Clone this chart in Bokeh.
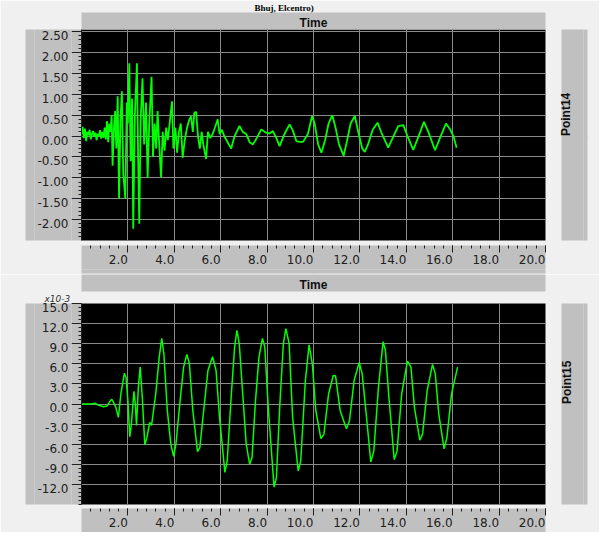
import math
from bokeh.plotting import figure
from bokeh.layouts import column
from bokeh.models import (FixedTicker, PrintfTickFormatter, Range1d, LinearAxis, Title)
from bokeh.embed import file_html
from bokeh.resources import INLINE

# ---------------- data ----------------
top_t = [0.00, 0.05, 0.10, 0.15, 0.20, 0.25, 0.30, 0.35, 0.40, 0.45, 0.50, 0.55, 0.60, 0.65,
         0.70, 0.75, 0.80, 0.85, 0.90, 0.95, 1.00, 1.05, 1.10, 1.15, 1.20, 1.25, 1.30, 1.34,
         1.40, 1.45, 1.50, 1.56, 1.62, 1.68, 1.74, 1.80, 1.89, 1.95, 2.00, 2.06, 2.12, 2.18,
         2.23, 2.30, 2.39, 2.44, 2.49, 2.55, 2.63, 2.70, 2.78, 2.85, 2.92, 3.02, 3.08, 3.15,
         3.22, 3.28, 3.35, 3.43, 3.50, 3.58, 3.65, 3.72, 3.80, 3.90, 3.96, 4.05, 4.12, 4.20,
         4.28, 4.36, 4.45, 4.55, 4.65, 4.72, 4.80, 4.86, 4.94, 5.02, 5.10, 5.18, 5.25, 5.37,
         5.45, 5.55, 5.65, 5.75, 5.87, 5.95, 6.05, 6.15, 6.30, 6.45, 6.60, 6.81, 6.95, 7.10,
         7.25, 7.39, 7.55, 7.75, 7.95, 8.10, 8.25, 8.40, 8.54, 8.75, 8.97, 9.11, 9.26, 9.40,
         9.55, 9.76, 9.94, 10.05, 10.20, 10.34, 10.50, 10.65, 10.81, 10.95, 11.10, 11.30,
         11.45, 11.60, 11.78, 11.95, 12.10, 12.21, 12.35, 12.55, 12.76, 12.95, 13.22, 13.45,
         13.65, 13.87, 14.05, 14.30, 14.50, 14.76, 14.95, 15.24, 15.45, 15.71, 15.90, 16.03,
         16.17]
top_v = [0.05, 0.22, -0.05, 0.18, -0.12, 0.10, 0.02, 0.15, -0.08, 0.05, 0.12, -0.02, 0.08, -0.10,
         0.06, 0.00, 0.14, -0.06, 0.10, -0.04, 0.20, -0.08, 0.36, -0.15, 0.30, 0.10, 0.50, -0.71,
         0.20, 0.60, -0.30, 0.95, -1.50, 0.40, 1.07, -0.90, -1.50, 0.80, 0.30, 1.74, -0.60, 0.90,
         -2.22, 0.50, 1.74, -0.50, -2.10, 0.40, 1.38, -0.20, 0.80, -1.00, 0.30, 1.42, -0.50, 0.30,
         -0.30, 0.60, -0.20, -0.99, 0.10, -0.35, 0.20, -0.10, 0.30, 0.83, -0.30, 0.20, -0.40, 0.10,
         0.30, -0.52, -0.10, 0.20, 0.40, 0.47, 0.10, 0.55, 0.58, 0.00, -0.30, 0.10, -0.20, -0.55,
         0.10, -0.05, 0.05, 0.20, 0.40, 0.05, 0.15, 0.00, -0.15, -0.30, 0.00, 0.24, 0.10, 0.05,
         -0.15, -0.20, -0.05, 0.16, 0.08, 0.06, 0.12, -0.05, -0.24, 0.05, 0.28, 0.13, -0.12, -0.14,
         -0.14, 0.05, 0.48, 0.30, -0.20, -0.40, -0.10, 0.30, 0.50, 0.20, -0.20, -0.47,
         -0.10, 0.30, 0.48, 0.05, -0.30, -0.38, -0.20, 0.15, 0.32, 0.05, -0.28, 0.00,
         0.24, 0.26, 0.00, -0.33, -0.05, 0.34, 0.10, -0.34, -0.05, 0.30, 0.15, 0.00,
         -0.28]

bot_t = [0.00, 0.45, 0.60, 0.75, 0.95, 1.10, 1.25, 1.31, 1.40, 1.48, 1.59, 1.70, 1.85, 1.92,
         2.00, 2.08, 2.15, 2.26, 2.32, 2.37, 2.45, 2.53, 2.62, 2.73, 2.82, 2.94, 3.02, 3.20,
         3.35, 3.46, 3.55, 3.70, 3.85, 3.97, 4.07, 4.25, 4.40, 4.54, 4.65, 4.80, 5.00, 5.10,
         5.25, 5.45, 5.65, 5.80, 5.95, 6.18, 6.28, 6.45, 6.60, 6.70, 6.80, 6.95, 7.10, 7.25,
         7.35, 7.50, 7.65, 7.80, 7.90, 8.05, 8.30, 8.40, 8.55, 8.70, 8.81, 8.95, 9.10, 9.34,
         9.45, 9.65, 9.81, 9.95, 10.10, 10.32, 10.45, 10.65, 10.85, 10.95, 11.15, 11.42, 11.55,
         11.75, 11.97, 12.10, 12.30, 12.47, 12.60, 12.80, 13.00, 13.10, 13.25, 13.48, 13.60,
         13.80, 14.05, 14.20, 14.35, 14.58, 14.70, 14.90, 15.13, 15.25, 15.40, 15.63, 15.75,
         15.95, 16.21]
bot_v = [0.0, 0.0, 0.1, -0.2, -0.4, -0.3, 0.5, 0.7, 0.1, -0.5, -2.0, 1.6, 4.6, 4.0,
         0.5, -4.9, -3.0, 1.9, 0.0, -3.2, 2.5, 5.5, 1.0, -6.1, -5.0, -2.75, -3.2, 1.5,
         7.0, 9.8, 7.5, -1.0, -6.0, -7.8, -6.0, 0.5, 5.5, 7.4, 6.0, -1.0, -7.1, -6.5,
         -1.5, 5.0, 7.05, 5.0, -2.0, -10.2, -8.5, 1.0, 8.5, 11.0, 9.0, 1.5, -6.0, -9.0,
         -8.0, 0.5, 7.0, 9.8, 8.5, -0.5, -12.4, -11.0, 0.0, 9.0, 11.25, 9.0, -2.0, -10.0,
         -8.5, 3.5, 8.84, 6.0, -1.0, -5.17, -4.5, 1.5, 4.25, 4.2, -1.0, -3.7, -2.5,
         3.5, 6.2, 4.5, -2.5, -8.65, -7.0, 2.5, 9.3, 8.0, 1.0, -8.3, -7.0,
         1.5, 6.4, 5.5, -0.5, -5.4, -4.5, 2.0, 5.9, 4.5, -1.5, -6.7, -5.0,
         1.5, 5.5]

x_ticks = [2, 4, 6, 8, 10, 12, 14, 16, 18, 20]
x_tick_labels = ["2.0", "4.0", "6.0", "8.0", "10.0", "12.0", "14.0", "16.0", "18.0", "20.0"]
x_minor = [round(0.4 * i, 2) for i in range(1, 51)]
top_y_ticks = [-2.0, -1.5, -1.0, -0.5, 0.0, 0.5, 1.0, 1.5, 2.0, 2.5]
top_y_minor = [round(-2.4 + 0.1 * i, 2) for i in range(0, 50)]
bot_y_ticks = [-12, -9, -6, -3, 0, 3, 6, 9, 12, 15]
bot_y_minor = [round(-15 + 0.6 * i, 2) for i in range(0, 51)]

# ---------------- styling ----------------
BG = "#f0f0f0"
PANEL = "#c0c0c0"
GRID = "#8a8a8a"
LINE = "#00ff00"
INK = "#202020"
FONT = "DejaVu Sans"
BOLD_FONT = "Liberation Sans"
W = 599
NB = "\u00a0"
LABEL_DROP_PX = 4          # tick labels of the y axes sit a little below their ticks


def blank_axis(size, tick, fill=None, **kw):
    """An axis that only takes up `size` pixels of room (optionally filled grey)."""
    col = fill or BG
    ax = LinearAxis(ticker=FixedTicker(ticks=[tick]), major_tick_in=0, major_tick_out=size,
                    minor_tick_in=0, minor_tick_out=0, major_label_standoff=0,
                    major_label_overrides={tick: ""}, major_label_text_font_size="0px",
                    axis_line_color=None, major_tick_line_color=col,
                    minor_tick_line_color=None, **kw)
    if fill:
        ax.background_fill_color = fill
    return ax


def time_axis():
    return LinearAxis(ticker=FixedTicker(ticks=[]), major_tick_in=0, major_tick_out=0,
                      minor_tick_in=0, minor_tick_out=0, major_label_standoff=0,
                      axis_line_color=None, major_tick_line_color=None,
                      minor_tick_line_color=None,
                      axis_label="Time", axis_label_standoff=0,
                      axis_label_text_font=BOLD_FONT, axis_label_text_font_style="bold",
                      axis_label_text_font_size="12px", axis_label_text_color="#101010",
                      background_fill_color=PANEL)


def point_axis(text, mid):
    return LinearAxis(ticker=FixedTicker(ticks=[mid]), major_tick_in=0, major_tick_out=0,
                      minor_tick_in=0, minor_tick_out=0, major_label_standoff=5,
                      major_label_overrides={mid: text},
                      major_label_orientation=math.pi / 2,
                      major_label_text_font=BOLD_FONT, major_label_text_font_style="bold",
                      major_label_text_font_size="12px", major_label_text_color="#101010",
                      axis_line_color=None, major_tick_line_color=None,
                      minor_tick_line_color=None, background_fill_color=PANEL)


def make_fig(height, top, bottom, yr, yticks, yminor, yfmt, gap_below, filler_below, point):
    p = figure(width=W, height=height, title=None,
               x_range=Range1d(0, 20), y_range=Range1d(*yr),
               output_backend="svg", toolbar_location=None,
               min_border_left=81, min_border_right=W - 81 - 464,
               min_border_top=top, min_border_bottom=bottom,
               background_fill_color="black", border_fill_color=BG,
               outline_line_color=None)
    frame_h = height - top - bottom
    drop = LABEL_DROP_PX * (yr[1] - yr[0]) / frame_h
    p.extra_y_ranges = {"labels": Range1d(yr[0] + drop, yr[1] + drop)}

    # ---- x axis ----
    xa = p.xaxis[0]
    xa.ticker = FixedTicker(ticks=x_ticks, minor_ticks=x_minor)
    xa.formatter = PrintfTickFormatter(format="%.1f")
    # labels sit to the left of their ticks, as in the reference
    xa.major_label_overrides = {t: lab + NB * (5 if len(lab) == 3 else 7)
                                for t, lab in zip(x_ticks, x_tick_labels)}
    xa.major_tick_in = 0
    xa.major_tick_out = 7
    xa.minor_tick_in = 0
    xa.minor_tick_out = 3
    xa.major_label_standoff = 0
    xa.axis_line_color = None
    xa.major_tick_line_color = INK
    xa.minor_tick_line_color = INK
    xa.major_label_text_font = FONT
    xa.major_label_text_font_size = "12px"
    xa.major_label_text_color = INK
    xa.background_fill_color = PANEL
    below = [blank_axis(gap_below, 10), xa]
    if filler_below:
        below.append(blank_axis(filler_below, 10, PANEL))
    p.below = below

    # ---- y axis: ticks on the main scale, labels on a slightly shifted one ----
    ya = p.yaxis[0]
    ya.ticker = FixedTicker(ticks=yticks, minor_ticks=yminor)
    ya.major_tick_in = 0
    ya.major_tick_out = 10
    ya.minor_tick_in = 0
    ya.minor_tick_out = 3
    ya.major_label_standoff = 0
    ya.major_label_overrides = {t: "" for t in yticks}
    ya.major_label_text_font_size = "0px"
    ya.axis_line_color = INK
    ya.major_tick_line_color = INK
    ya.minor_tick_line_color = INK
    ya.background_fill_color = PANEL

    yl = LinearAxis(y_range_name="labels", ticker=FixedTicker(ticks=yticks),
                    formatter=PrintfTickFormatter(format=yfmt),
                    major_tick_in=0, major_tick_out=0, minor_tick_in=0, minor_tick_out=0,
                    major_label_standoff=3, axis_line_color=None,
                    major_tick_line_color=None, minor_tick_line_color=None,
                    major_label_text_font=FONT, major_label_text_font_size="12px",
                    major_label_text_color=INK, background_fill_color=PANEL)
    p.left = [ya, yl, blank_axis(9, 0, PANEL)]

    # ---- right side bar ----
    p.right = [blank_axis(16, 0), point_axis(point, 0), blank_axis(4, 0, PANEL)]

    p.xgrid.ticker = FixedTicker(ticks=x_ticks)
    p.ygrid.ticker = FixedTicker(ticks=yticks)
    p.xgrid.grid_line_color = GRID
    p.ygrid.grid_line_color = GRID
    p.xgrid.grid_line_width = 1
    p.ygrid.grid_line_width = 1
    return p


# ---------------- top panel (frame 464 x 212 px) ----------------
p1 = make_fig(274, 28, 34, (-2.5, 2.55), top_y_ticks, top_y_minor, "%.2f", 5, 4, "Point14")
p1.line(top_t, top_v, line_color=LINE, line_width=1.8)
p1.add_layout(time_axis(), "above")
p1.add_layout(Title(text="Bhuj, Elcentro)", align="left", offset=173, standoff=0,
                    text_font="Liberation Serif", text_font_style="bold",
                    text_font_size="9px", text_color="black"), "above")

# ---------------- bottom panel (frame 464 x 208 px) ----------------
p2 = make_fig(258, 25, 25, (-15, 15), bot_y_ticks, bot_y_minor, "%.1f", 4, 0, "Point15")
p2.line(bot_t, bot_v, line_color=LINE, line_width=1.5)
p2.add_layout(Title(text="x10-3", align="left", offset=-37, standoff=0,
                    text_font=FONT, text_font_style="italic",
                    text_font_size="9px", text_color="#303030"), "above")
p2.add_layout(time_axis(), "above")

layout = column(p1, p2, spacing=0)
open("out.html", "w").write(file_html(layout, INLINE))
